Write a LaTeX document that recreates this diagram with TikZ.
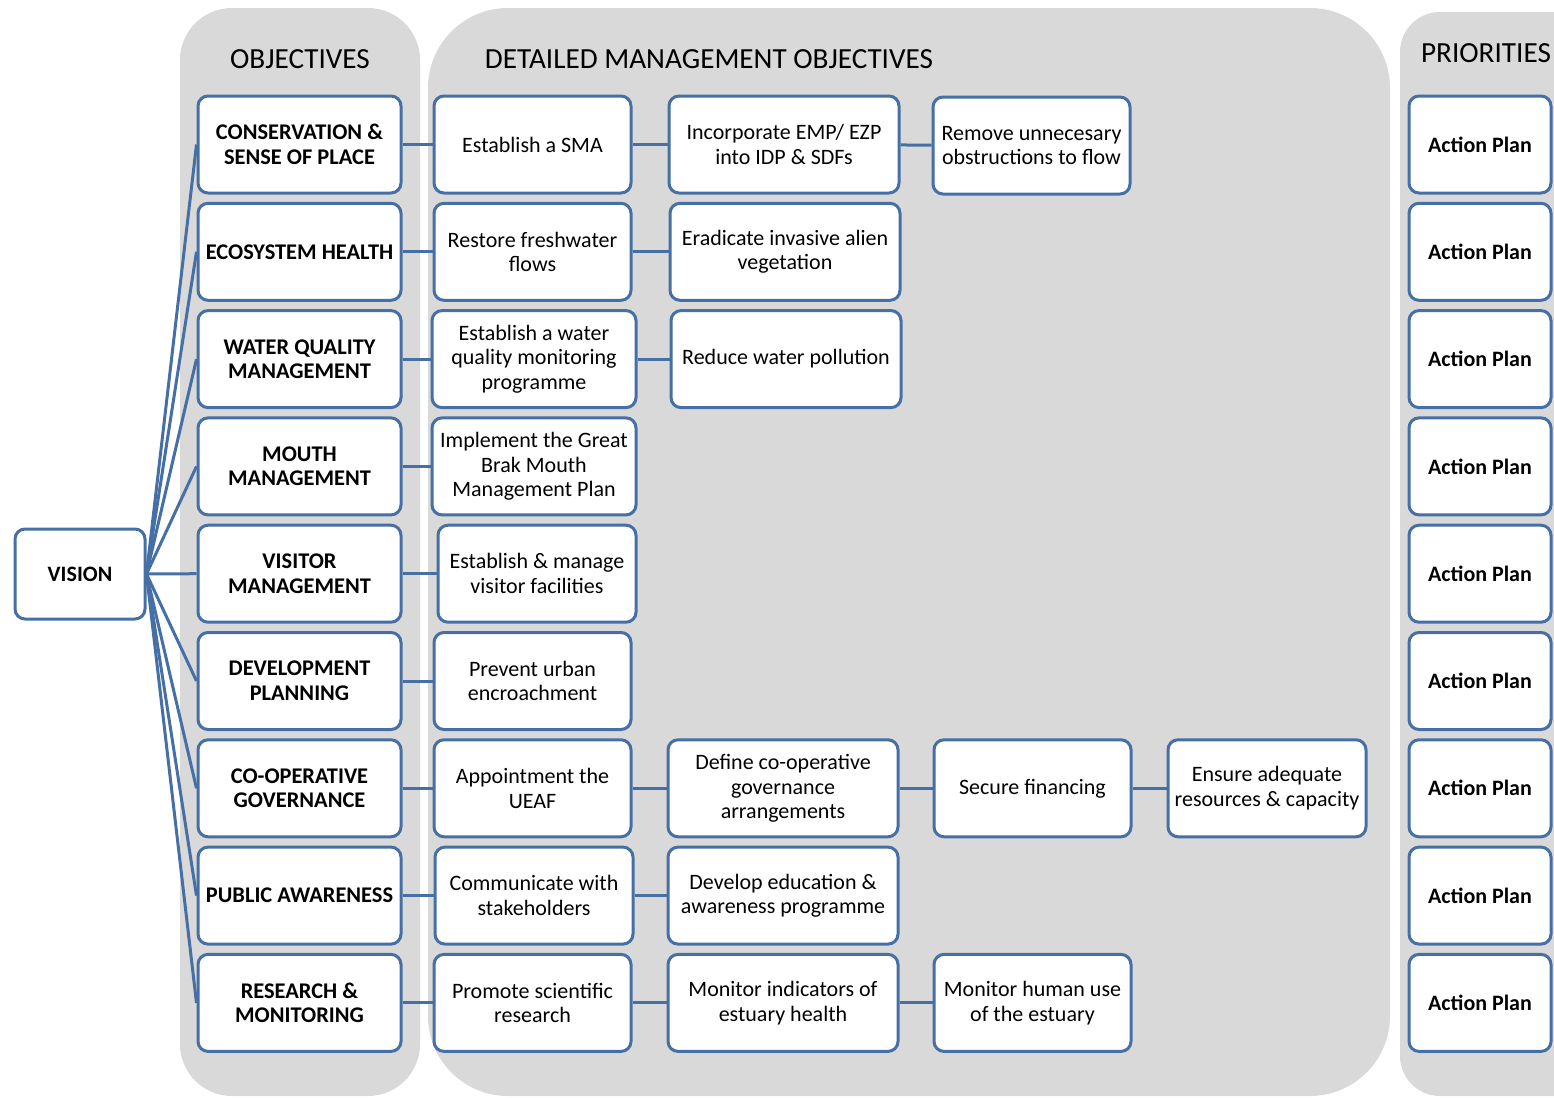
\documentclass[tikz,border=0pt]{standalone}
\usepackage{fontspec}
\setmainfont{Carlito}
\definecolor{boxblue}{RGB}{70,112,165}
\definecolor{panelgrey}{RGB}{217,217,217}
\tikzset{
  px/.style={x=0.5pt,y=-0.5pt},
  panel/.style={fill=panelgrey,draw=none},
  box/.style={draw=boxblue,line width=1.5pt,rounded corners=5pt,fill=white,align=center,
    inner sep=1pt,font=\fontsize{11}{12.3}\selectfont},
  objbox/.style={box,minimum width=101.5pt,minimum height=48.5pt,font=\bfseries\fontsize{11.2}{12.3}\selectfont},
  cola/.style={box,minimum width=98.5pt,minimum height=48.5pt},
  colb/.style={box,minimum width=115pt,minimum height=48.5pt},
  colc/.style={box,minimum width=98.5pt,minimum height=48.5pt},
  cold/.style={box,minimum width=99pt,minimum height=48.5pt},
  actbox/.style={box,minimum width=71pt,minimum height=48.5pt,font=\bfseries\fontsize{11}{12.3}\selectfont},
  header/.style={font=\fontsize{14.6}{16}\selectfont,inner sep=0pt},
  link/.style={draw=boxblue,line width=1.5pt}
}
\begin{document}
\begin{tikzpicture}[px]
\clip (0,0) rectangle (1554,1098);
\fill[white] (0,0) rectangle (1554,1098);
% panels
\fill[panel,rounded corners=26pt] (180,8) rectangle (420,1096);
\fill[panel,rounded corners=40pt] (428,8) rectangle (1390,1096);
\fill[panel,rounded corners=20pt] (1400,12) rectangle (1600,1096);
% headers
\node[header] (h1) at (300,59) {OBJECTIVES};
\node[header] (h2) at (709,59) {DETAILED MANAGEMENT OBJECTIVES};
\node[header] (h3) at (1486,53) {PRIORITIES};
% vision
\node[box,minimum width=65pt,minimum height=45pt,font=\bfseries\fontsize{11}{12.3}\selectfont] (vision) at (80,574) {VISION};
% objectives
\node[objbox] (o1) at (299.5,144.5) {CONSERVATION \&\\SENSE OF PLACE};
\node[objbox] (o2) at (299.5,251.8) {ECOSYSTEM HEALTH};
\node[objbox] (o3) at (299.5,359.1) {WATER QUALITY\\MANAGEMENT};
\node[objbox] (o4) at (299.5,466.4) {MOUTH\\MANAGEMENT};
\node[objbox] (o5) at (299.5,573.7) {VISITOR\\MANAGEMENT};
\node[objbox] (o6) at (299.5,681) {DEVELOPMENT\\PLANNING};
\node[objbox] (o7) at (299.5,788.3) {CO-OPERATIVE\\GOVERNANCE};
\node[objbox] (o8) at (299.5,895.6) {PUBLIC AWARENESS};
\node[objbox] (o9) at (299.5,1002.9) {RESEARCH \&\\MONITORING};
% column 2
\node[cola] (a1) at (532.5,144.5) {Establish a SMA};
\node[cola] (a2) at (532.5,251.8) {Restore freshwater\\flows};
\node[cola,minimum width=102pt] (a3) at (534,359.1) {Establish a water\\quality monitoring\\programme};
\node[cola,minimum width=102pt] (a4) at (534,466.4) {Implement the Great\\Brak Mouth\\Management Plan};
\node[cola,minimum width=99pt] (a5) at (537,573.7) {Establish \& manage\\visitor facilities};
\node[cola] (a6) at (532.5,681) {Prevent urban\\encroachment};
\node[cola] (a7) at (532.5,788.3) {Appointment the\\UEAF};
\node[cola,minimum width=99pt] (a8) at (534,895.6) {Communicate with\\stakeholders};
\node[cola] (a9) at (532.5,1002.9) {Promote scientific\\research};
% column 3
\node[colb] (b1) at (784,144.5) {Incorporate EMP/ EZP\\into IDP \& SDFs};
\node[colb] (b2) at (785,251.8) {Eradicate invasive alien\\vegetation};
\node[colb] (b3) at (786,359.1) {Reduce water pollution};
\node[colb] (b7) at (783,788.3) {Define co-operative\\governance\\arrangements};
\node[colb] (b8) at (783,895.6) {Develop education \&\\awareness programme};
\node[colb] (b9) at (783,1002.9) {Monitor indicators of\\estuary health};
% column 4
\node[colc] (c1) at (1031.5,145.5) {Remove unnecesary\\obstructions to flow};
\node[colc] (c7) at (1032.5,788.3) {Secure financing};
\node[colc] (c9) at (1032.5,1002.9) {Monitor human use\\of the estuary};
% column 5
\node[cold] (d7) at (1267,788.3) {Ensure adequate\\resources \& capacity};
% action plans
\node[actbox] (p1) at (1480,144.5) {Action Plan};
\node[actbox] (p2) at (1480,251.8) {Action Plan};
\node[actbox] (p3) at (1480,359.1) {Action Plan};
\node[actbox] (p4) at (1480,466.4) {Action Plan};
\node[actbox] (p5) at (1480,573.7) {Action Plan};
\node[actbox] (p6) at (1480,681) {Action Plan};
\node[actbox] (p7) at (1480,788.3) {Action Plan};
\node[actbox] (p8) at (1480,895.6) {Action Plan};
\node[actbox] (p9) at (1480,1002.9) {Action Plan};
% vision links
\foreach \i in {1,...,9} {\draw[link] (vision.east) -- (o\i.west);}
% row links
\draw[link] (o1) -- (a1); \draw[link] (a1) -- (b1); \draw[link] (b1) -- (c1);
\draw[link] (o2) -- (a2); \draw[link] (a2) -- (b2);
\draw[link] (o3) -- (a3); \draw[link] (a3) -- (b3);
\draw[link] (o4) -- (a4);
\draw[link] (o5) -- (a5);
\draw[link] (o6) -- (a6);
\draw[link] (o7) -- (a7); \draw[link] (a7) -- (b7); \draw[link] (b7) -- (c7); \draw[link] (c7) -- (d7);
\draw[link] (o8) -- (a8); \draw[link] (a8) -- (b8);
\draw[link] (o9) -- (a9); \draw[link] (a9) -- (b9); \draw[link] (b9) -- (c9);
\end{tikzpicture}
\end{document}
